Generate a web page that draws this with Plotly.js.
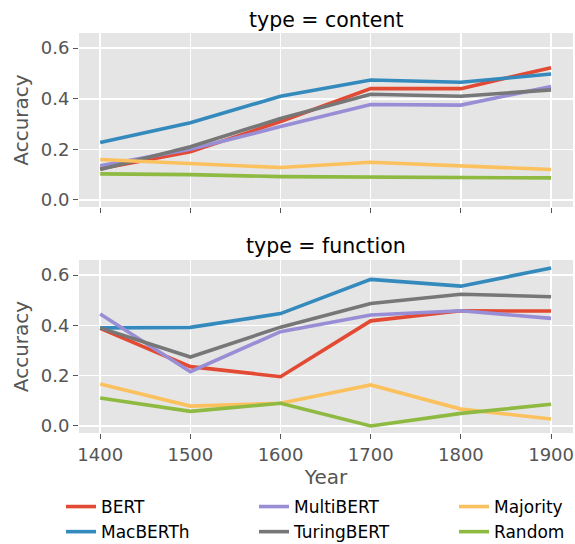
<!DOCTYPE html>
<html><head><meta charset="utf-8">
<script src="https://cdn.plot.ly/plotly-3.0.1.min.js"></script>
<style>html,body{margin:0;padding:0;background:#fff}</style>
</head><body><div id="chart" style="width:575px;height:544px"></div>
<script>
const years = [1400, 1500, 1600, 1700, 1800, 1900];
const models = ["BERT", "MacBERTh", "MultiBERT", "TuringBERT", "Majority", "Random"];
const legendOf = {BERT:"legend", MacBERTh:"legend", MultiBERT:"legend2", TuringBERT:"legend2", Majority:"legend3", Random:"legend3"};
const colors = {BERT:"#E24A33", MacBERTh:"#348ABD", MultiBERT:"#988ED5", TuringBERT:"#777777", Majority:"#FBC15E", Random:"#8EBA42"};
const content = {
  BERT:       [0.123, 0.190, 0.310, 0.440, 0.440, 0.523],
  MacBERTh:   [0.227, 0.305, 0.410, 0.474, 0.465, 0.498],
  MultiBERT:  [0.135, 0.200, 0.290, 0.377, 0.375, 0.448],
  TuringBERT: [0.120, 0.210, 0.322, 0.418, 0.410, 0.435],
  Majority:   [0.160, 0.143, 0.128, 0.149, 0.136, 0.120],
  Random:     [0.103, 0.100, 0.092, 0.091, 0.091, 0.087]
};
const func = {
  BERT:       [0.388, 0.236, 0.196, 0.418, 0.458, 0.457],
  MacBERTh:   [0.390, 0.392, 0.447, 0.583, 0.556, 0.628],
  MultiBERT:  [0.445, 0.216, 0.375, 0.441, 0.458, 0.428],
  TuringBERT: [0.390, 0.274, 0.393, 0.487, 0.524, 0.514],
  Majority:   [0.167, 0.079, 0.090, 0.163, 0.067, 0.028],
  Random:     [0.111, 0.058, 0.090, 0.000, 0.050, 0.086]
};
const traces = [];
models.forEach(m => {
  traces.push({x: years, y: content[m], type:"scatter", mode:"lines", name:m, legend:legendOf[m],
    line:{color:colors[m], width:3.6}, xaxis:"x", yaxis:"y", showlegend:true});
});
models.forEach(m => {
  traces.push({x: years, y: func[m], type:"scatter", mode:"lines", name:m, legend:legendOf[m],
    line:{color:colors[m], width:3.6}, xaxis:"x2", yaxis:"y2", showlegend:false});
});
const GH = 464; // plot-area height (544 - bottom margin 80)
const py = p => 1 - p / GH;
const tickfont = {family:"DejaVu Sans", size:18, color:"#555555"};
const yax = (dom, anchor) => ({domain:dom, anchor:anchor, range:[-0.028, 0.66], tickvals:[0,0.2,0.4,0.6],
  ticktext:["0.0","0.2","0.4","0.6"], ticks:"outside", ticklen:5, tickcolor:"#555555", tickwidth:1,
  gridcolor:"#ffffff", gridwidth:1.5, zeroline:false, showline:false, tickfont:tickfont, automargin:false,
  title:{text:"Accuracy", font:{family:"DejaVu Sans", size:20, color:"#555555"}, standoff:6}});
const xax = (anchor, labels) => ({anchor:anchor, range:[1376.5, 1924.3], tickvals:years,
  showticklabels:labels, ticks:"outside", ticklen:5, tickcolor:"#555555", tickwidth:1, automargin:false,
  gridcolor:"#ffffff", gridwidth:1.5, zeroline:false, showline:false, tickfont:tickfont});
const leg = (left) => ({orientation:"v", xref:"paper", yref:"container", x:(left-79)/494, xanchor:"left",
  y:1-489/544, yanchor:"top", font:{family:"DejaVu Sans", size:17, color:"#000000"},
  bgcolor:"rgba(0,0,0,0)", tracegroupgap:1, traceorder:"normal"});
const layout = {
  width:575, height:544, margin:{l:79, r:2, t:0, b:80},
  paper_bgcolor:"#ffffff", plot_bgcolor:"#E5E5E5",
  xaxis: Object.assign(xax("y", false), {matches:"x2"}),
  yaxis: yax([py(207), py(33)], "x"),
  xaxis2: Object.assign(xax("y2", true), {title:{text:"Year", font:{family:"DejaVu Sans", size:20, color:"#555555"}, standoff:6}}),
  yaxis2: yax([py(433), py(260)], "x2"),
  showlegend:true,
  legend: leg(61), legend2: leg(254), legend3: leg(454),
  annotations:[
    {text:"type = content", xref:"paper", yref:"paper", x:0.5, y:py(20), xanchor:"center", yanchor:"middle", showarrow:false,
     font:{family:"DejaVu Sans", size:20.5, color:"#000000"}},
    {text:"type = function", xref:"paper", yref:"paper", x:0.5, y:py(246), xanchor:"center", yanchor:"middle", showarrow:false,
     font:{family:"DejaVu Sans", size:20.5, color:"#000000"}}
  ]
};
Plotly.newPlot("chart", traces, layout, {displayModeBar:false, staticPlot:true});
</script></body></html>
